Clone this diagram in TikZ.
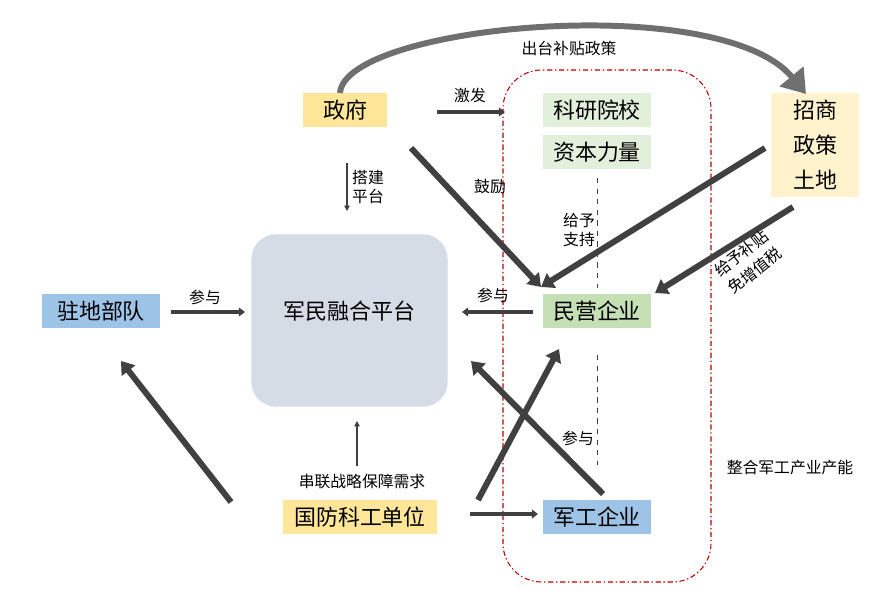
\documentclass[tikz,border=0pt]{standalone}
\usepackage{fontspec}
\setmainfont{Noto Sans CJK SC}
\usetikzlibrary{arrows.meta}
\definecolor{govyellow}{HTML}{FFE699}
\definecolor{paleyellow}{HTML}{FFF2CC}
\definecolor{palegreen}{HTML}{E2EFDA}
\definecolor{privgreen}{HTML}{C5E0B4}
\definecolor{unitblue}{HTML}{9DC3E6}
\definecolor{platgray}{HTML}{D6DCE5}
\definecolor{arrowgray}{HTML}{404040}
\definecolor{curvegray}{HTML}{6F6F6F}
\definecolor{zonered}{HTML}{C00000}

\begin{document}
\begin{tikzpicture}[x=0.02cm,y=-0.02cm,
  box/.style={inner sep=0pt,minimum height=19.3pt,font=\fontsize{12.5}{14}\selectfont},
  lbl/.style={inner sep=1pt,font=\fontsize{9}{11}\selectfont},
  bigarrow/.style={draw=arrowgray,line width=3.4pt,-{Triangle[length=7pt,width=9.5pt]}},
  midarrow/.style={draw=arrowgray,line width=2.1pt,-{Triangle[length=3.5pt,width=5pt]}},
  thinarrow/.style={draw=arrowgray,line width=0.9pt,-{Triangle[length=3pt,width=3pt]}},
  guide/.style={draw=arrowgray,line width=0.5pt,dashed}]
  \useasboundingbox (0,0) rectangle (884,597);

  \draw[zonered,line width=0.6pt,rounded corners=22pt,
    dash pattern=on 3pt off 1.5pt on 0.8pt off 1.5pt] (503,70) rectangle (711,582);

  \node[box,fill=govyellow,minimum width=47.6pt] (zf) at (345,110) {政府};
  \node[box,fill=palegreen,minimum width=61.8pt] (ky) at (597,110) {科研院校};
  \node[box,fill=palegreen,minimum width=61.8pt] (zb) at (597,152) {资本力量};
  \node[box,fill=paleyellow,minimum width=49.9pt,minimum height=59pt,align=center,
    font=\fontsize{12.5}{20}\selectfont] (zs) at (815,145) {招商\\政策\\土地};
  \node[box,fill=unitblue,minimum width=67.5pt] (zd) at (101,311) {驻地部队};
  \node[fill=platgray,rounded corners=14pt,minimum width=111.7pt,minimum height=98.1pt,
    label={[anchor=center,yshift=-44pt,font=\fontsize{12.5}{14}\selectfont]north:军民融合平台}] (pt) at (349.5,320.5) {};
  \node[box,fill=privgreen,minimum width=61.8pt] (my) at (597,311) {民营企业};
  \node[box,fill=govyellow,minimum width=87.3pt] (gf) at (360,517) {国防科工单位};
  \node[box,fill=unitblue,minimum width=61.8pt] (jg) at (597,517) {军工企业};

  \coordinate (c1) at (340,93);
  \coordinate (c2) at (806,94);
  \draw[curvegray,line width=3.4pt,-{Triangle[length=13pt,width=17pt]}]
    (c1) .. controls (345,25) and (720,-10) .. (c2);
  \node[lbl] (l1) at (569,48) {出台补贴政策};

  \coordinate (a1) at (437,112);
  \coordinate (a2) at (505,112);
  \draw[midarrow] (a1) -- (a2);
  \node[lbl] (l2) at (470,95) {激发};

  \coordinate (b1) at (347,163);
  \coordinate (b2) at (347,211);
  \draw[thinarrow] (b1) -- (b2);
  \node[lbl,align=left] (l3) at (368,187) {搭建\\平台};

  \coordinate (e1) at (411,148);
  \coordinate (e2) at (541,287);
  \draw[bigarrow] (e1) -- (e2);
  \node[lbl] (l4) at (490,187) {鼓励};

  \coordinate (f1) at (765,148);
  \draw[bigarrow] (f1) -- (e2);

  \coordinate (g1) at (793,207);
  \coordinate (g2) at (655,293);
  \draw[bigarrow] (g1) -- (g2);
  \node[lbl,rotate=38,align=center,font=\fontsize{9}{12.5}\selectfont] (l5) at (748,262) {给予补贴\\免增值税};

  \draw[guide,shorten <=5pt,shorten >=3.4pt] (zb.south) -- (my.north);
  \node[lbl,align=center] (l6) at (579,230) {给予\\支持};

  \coordinate (h1) at (171,312);
  \coordinate (h2) at (245,312);
  \draw[midarrow] (h1) -- (h2);
  \node[lbl] (l7) at (205,297) {参与};

  \coordinate (k1) at (533,312);
  \coordinate (k2) at (462,312);
  \draw[midarrow,line width=2.6pt] (k1) -- (k2);
  \node[lbl] (l8) at (493,295) {参与};

  \draw[guide,shorten <=15.3pt,shorten >=19.8pt] (my.south) -- (jg.north);
  \node[lbl] (l9) at (578,438) {参与};

  \coordinate (m1) at (357,466);
  \coordinate (m2) at (357,421);
  \draw[thinarrow] (m1) -- (m2);
  \node[lbl] (l10) at (362,482) {串联战略保障需求};

  \coordinate (n1) at (470,514);
  \coordinate (n2) at (538,514);
  \draw[midarrow] (n1) -- (n2);

  \coordinate (p1) at (478,500);
  \coordinate (p2) at (559,349);
  \draw[bigarrow] (p1) -- (p2);

  \coordinate (q1) at (603,494);
  \coordinate (q2) at (471,361);
  \draw[bigarrow] (q1) -- (q2);

  \coordinate (r1) at (231,502);
  \coordinate (r2) at (121,361);
  \draw[bigarrow] (r1) -- (r2);

  \node[lbl] (l11) at (790,468) {整合军工产业产能};
\end{tikzpicture}
\end{document}
